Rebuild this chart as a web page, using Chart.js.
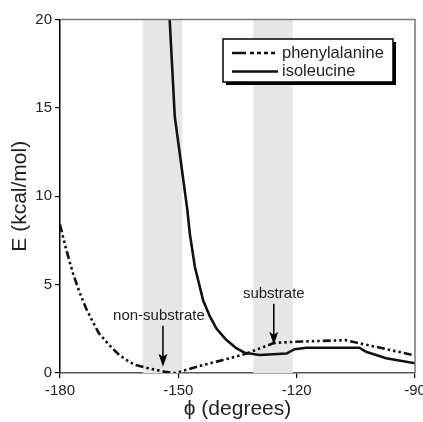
<!DOCTYPE html>
<html>
<head>
<meta charset="utf-8">
<script src="https://cdn.jsdelivr.net/npm/chart.js@4.4.1/dist/chart.umd.min.js"></script>
<style>
  body { margin: 0; background: #fff; }
  #grafico { display: block; }
</style>
</head>
<body>
<canvas id="grafico" width="423" height="422"></canvas>
<script>
// Datos
const phiFen = [-180, -178.5, -176.8, -175.1, -173.4, -171.7, -170.1, -167.5, -165, -162.5, -160.8, -157.6, -153.4, -151, -149.6, -144.6, -138.7, -132.7, -126, -124.5, -119, -107.5, -105.5, -102, -90.5];
const eFen   = [8.4, 7.05, 5.7, 4.6, 3.66, 2.9, 2.24, 1.58, 1.02, 0.64, 0.45, 0.27, 0.07, 0.0, 0.07, 0.4, 0.73, 1.1, 1.68, 1.72, 1.78, 1.86, 1.75, 1.58, 1.02];

const phiIle = [-152.2, -150.9, -147.7, -147.1, -145.8, -143.7, -142.0, -140.3, -137.8, -135.3, -133.2, -129.4, -122.6, -120.5, -117.5, -104.1, -102.4, -97.3, -90];
const eIle   = [20, 14.5, 9.2, 7.9, 6.0, 4.1, 3.2, 2.5, 1.86, 1.4, 1.15, 1.02, 1.1, 1.35, 1.43, 1.43, 1.2, 0.83, 0.55];

const ticksX = [-180, -150, -120, -90];
const ticksY = [0, 5, 10, 15, 20];

// Bandas sombreadas (grados)
const bandas = [[-159, -149], [-131, -121]];

// Flechas: etiqueta, phi, energia de la punta
const etiquetas = ['non-substrate', 'substrate'];
const phiFlechas = [-153.9, -125.8];
const eFlechas = [0.35, 1.6];

const FUENTE = '"Liberation Sans", Arial, Helvetica, sans-serif';
const TEXTO = '#222';

function puntos(xs, ys) {
    return xs.map((x, i) => ({ x: x, y: ys[i] }));
}

// Plugin: bandas grises
const pluginBandas = {
    id: 'bandas',
    beforeDatasetsDraw(chart) {
        const { ctx, chartArea, scales } = chart;
        ctx.save();
        ctx.fillStyle = '#e6e6e6';
        bandas.forEach(b => {
            const x1 = scales.x.getPixelForValue(b[0]);
            const x2 = scales.x.getPixelForValue(b[1]);
            ctx.fillRect(x1, chartArea.top, x2 - x1, chartArea.bottom - chartArea.top);
        });
        ctx.restore();
    }
};

// Plugin: marco superior y derecho
const pluginMarco = {
    id: 'marco',
    afterDatasetsDraw(chart) {
        const { ctx, chartArea } = chart;
        ctx.save();
        ctx.strokeStyle = '#777';
        ctx.lineWidth = 1.5;
        ctx.beginPath();
        ctx.moveTo(chartArea.left, chartArea.top);
        ctx.lineTo(chartArea.right, chartArea.top);
        ctx.lineTo(chartArea.right, chartArea.bottom);
        ctx.stroke();
        ctx.restore();
    }
};

// Plugin: flechas con texto
const pluginFlechas = {
    id: 'flechas',
    afterDatasetsDraw(chart) {
        const { ctx, scales } = chart;
        ctx.save();
        ctx.font = '15px ' + FUENTE;
        ctx.fillStyle = TEXTO;
        ctx.strokeStyle = '#000';
        ctx.textAlign = 'center';
        ctx.textBaseline = 'middle';
        etiquetas.forEach((txt, i) => {
            const x = scales.x.getPixelForValue(phiFlechas[i]);
            const yPunta = scales.y.getPixelForValue(eFlechas[i]);
            const yInicio = yPunta - 41;
            ctx.fillText(txt, x - (i === 0 ? 4 : 0), yInicio - 10);
            ctx.lineWidth = 1.5;
            ctx.beginPath();
            ctx.moveTo(x, yInicio);
            ctx.lineTo(x, yPunta - 8);
            ctx.stroke();
            ctx.beginPath();
            ctx.moveTo(x, yPunta);
            ctx.lineTo(x - 4.5, yPunta - 13);
            ctx.lineTo(x, yPunta - 10);
            ctx.lineTo(x + 4.5, yPunta - 13);
            ctx.closePath();
            ctx.fillStyle = '#000';
            ctx.fill();
            ctx.fillStyle = TEXTO;
        });
        ctx.restore();
    }
};

// Plugin: leyenda con sombra
const pluginLeyenda = {
    id: 'leyenda',
    afterDraw(chart) {
        const { ctx, chartArea } = chart;
        const ancho = 170, alto = 43;
        const x0 = chartArea.right - 22 - ancho;
        const y0 = chartArea.top + 19.5;
        ctx.save();
        ctx.fillStyle = '#000';
        ctx.fillRect(x0 + 3, y0 + 3, ancho, alto);
        ctx.fillStyle = '#fff';
        ctx.fillRect(x0, y0, ancho, alto);
        ctx.strokeStyle = '#000';
        ctx.lineWidth = 1.5;
        ctx.strokeRect(x0, y0, ancho, alto);

        ctx.font = '16.5px ' + FUENTE;
        ctx.textBaseline = 'middle';
        chart.data.datasets.forEach((ds, i) => {
            const y = y0 + 14 + i * 18.5;
            ctx.strokeStyle = ds.borderColor;
            ctx.lineWidth = ds.borderWidth;
            ctx.setLineDash(i === 0 ? [14, 4, 4, 3, 4, 3, 4, 3, 4] : []);
            ctx.beginPath();
            ctx.moveTo(x0 + 9, y);
            ctx.lineTo(x0 + 55, y);
            ctx.stroke();
            ctx.setLineDash([]);
            ctx.fillStyle = TEXTO;
            ctx.fillText(ds.label, x0 + 59, y);
        });
        ctx.restore();
    }
};

function crearGrafico() {
    const ctx = document.getElementById('grafico');
    if (!ctx || typeof Chart === 'undefined') return;

    new Chart(ctx, {
        type: 'line',
        data: {
            datasets: [{
                label: 'phenylalanine',
                data: puntos(phiFen, eFen),
                borderColor: '#111',
                borderWidth: 2.6,
                borderDash: [8, 3, 2.5, 3, 2.5, 3, 2.5, 3],
                pointRadius: 0,
                tension: 0
            }, {
                label: 'isoleucine',
                data: puntos(phiIle, eIle),
                borderColor: '#111',
                borderWidth: 2.6,
                pointRadius: 0,
                tension: 0
            }]
        },
        options: {
            responsive: false,
            animation: false,
            events: [],
            layout: { padding: { left: 0, top: 19.5, right: 8, bottom: 0 } },
            plugins: {
                legend: { display: false },
                tooltip: { enabled: false }
            },
            scales: {
                x: {
                    type: 'linear',
                    min: -180,
                    max: -90,
                    afterBuildTicks: s => { s.ticks = ticksX.map(v => ({ value: v })); },
                    afterFit: s => { s.height = 49; s.paddingLeft = 0; s.paddingRight = 0; },
                    grid: { drawOnChartArea: false, drawTicks: true, tickLength: 5, color: '#000', lineWidth: 1.2 },
                    border: { color: '#555', width: 1.5 },
                    ticks: {
                        padding: 4,
                        maxRotation: 0,
                        color: TEXTO,
                        font: { family: FUENTE, size: 15 }
                    },
                    title: {
                        display: true,
                        text: '\u03D5 (degrees)',
                        color: TEXTO,
                        padding: { top: 0, bottom: 0 },
                        font: { family: FUENTE, size: 21 }
                    }
                },
                y: {
                    type: 'linear',
                    min: 0,
                    max: 20,
                    afterBuildTicks: s => { s.ticks = ticksY.map(v => ({ value: v })); },
                    afterFit: s => { s.width = 60; s.paddingTop = 0; s.paddingBottom = 0; },
                    grid: { drawOnChartArea: false, drawTicks: true, tickLength: 5, color: '#000', lineWidth: 1.2 },
                    border: { color: '#000', width: 1.5 },
                    ticks: {
                        padding: 3,
                        color: TEXTO,
                        font: { family: FUENTE, size: 15 }
                    },
                    title: {
                        display: true,
                        text: 'E (kcal/mol)',
                        color: TEXTO,
                        padding: { top: 8, bottom: 0 },
                        font: { family: FUENTE, size: 21 }
                    }
                }
            }
        },
        plugins: [pluginBandas, pluginMarco, pluginFlechas, pluginLeyenda]
    });
}

document.addEventListener('DOMContentLoaded', crearGrafico);
</script>
</body>
</html>
